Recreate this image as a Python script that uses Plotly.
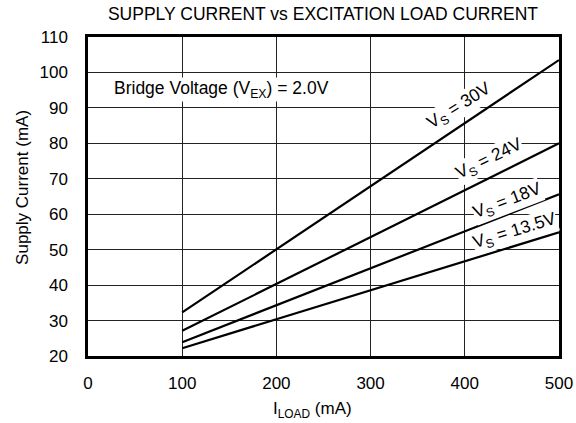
import plotly.graph_objects as go

i_load = [100, 500]
vs_labels = ["V<sub>S</sub> = 30V", "V<sub>S</sub> = 24V", "V<sub>S</sub> = 18V", "V<sub>S</sub> = 13.5V"]
series = {
    "30V": [32.3, 103.5],
    "24V": [27.1, 80.0],
    "18V": [23.9, 65.6],
    "13.5V": [22.2, 54.9],
}
label_x = [394, 426, 445, 453]
label_y = [90.3, 75.3, 63.5, 55.0]
label_angle = [-32, -26, -21, -17]

x_ticks = [0, 100, 200, 300, 400, 500]
y_ticks = [20, 30, 40, 50, 60, 70, 80, 90, 100, 110]

fig = go.Figure()
for name, vals in series.items():
    fig.add_trace(go.Scatter(x=i_load, y=vals, mode="lines",
                             line=dict(color="black", width=2.2), showlegend=False))

for txt, lx, ly, ang in zip(vs_labels, label_x, label_y, label_angle):
    fig.add_annotation(x=lx, y=ly, text=txt, showarrow=False, textangle=ang,
                       font=dict(size=17.5, color="black"), bgcolor="white", borderpad=0)

fig.add_annotation(x=26.5, y=95.1, xanchor="left", text="Bridge Voltage (V<sub>EX</sub>) = 2.0V",
                   showarrow=False, font=dict(size=17.5, color="black"), bgcolor="white", borderpad=0)

# axis titles
fig.add_annotation(xref="paper", yref="paper", x=0.477, y=0, yanchor="middle", yshift=-54,
                   text="I<sub>LOAD</sub> (mA)", showarrow=False, font=dict(size=17, color="black"))
fig.add_annotation(xref="paper", yref="paper", x=0, y=0.527, xanchor="center", xshift=-65,
                   text="Supply Current (mA)", textangle=-90, showarrow=False,
                   font=dict(size=17, color="black"))

font = "Liberation Sans, Arial, sans-serif"
fig.update_layout(
    width=576, height=423,
    margin=dict(l=88, r=17, t=37, b=67),
    paper_bgcolor="white", plot_bgcolor="white",
    font=dict(family=font, color="black", size=17),
    title=dict(text="SUPPLY CURRENT vs EXCITATION LOAD CURRENT", x=(105 + 541) / 2 / 576, xanchor="center",
               y=1 - 14 / 423, yanchor="middle", font=dict(size=17.5)),
)
fig.update_xaxes(range=[0, 500], tickvals=x_ticks, showgrid=True, gridcolor="#222", gridwidth=1,
                 showline=True, mirror=True, linecolor="black", linewidth=2.5, zeroline=False,
                 ticks="", ticklabelstandoff=10, automargin=False, tickfont=dict(size=17))
fig.update_yaxes(range=[20, 110], tickvals=y_ticks, showgrid=True, gridcolor="#222", gridwidth=1,
                 showline=True, mirror=True, linecolor="black", linewidth=2.5, zeroline=False,
                 ticks="", ticklabelstandoff=14, automargin=False, tickfont=dict(size=17))

fig.write_html("out.html", config={"displayModeBar": False},
               post_script="document.body.style.margin='0';")
